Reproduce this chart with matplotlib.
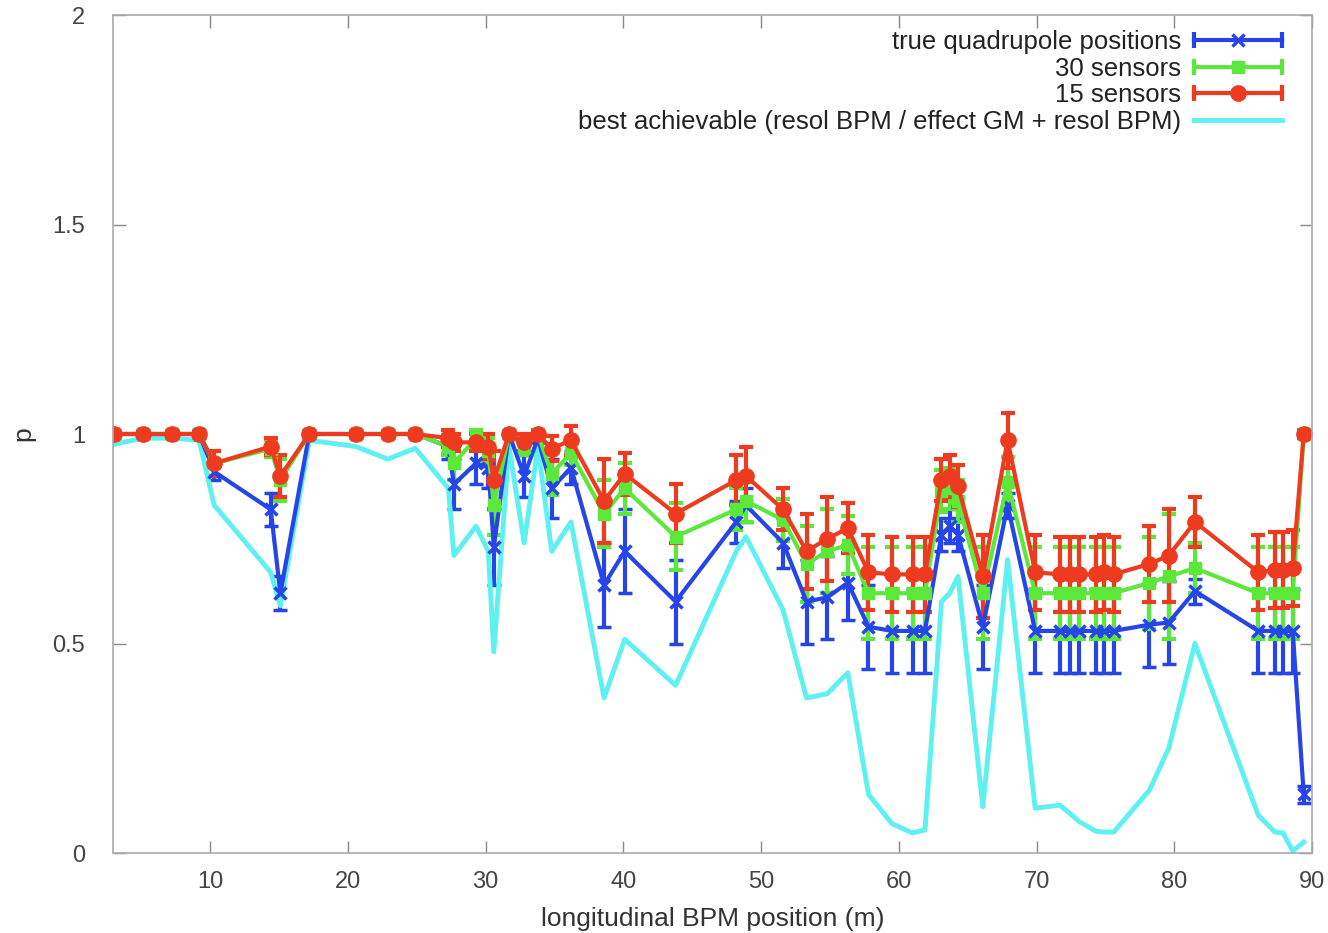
import matplotlib
matplotlib.use("Agg")
import matplotlib.pyplot as plt
from matplotlib.lines import Line2D
from matplotlib.legend_handler import HandlerBase

plt.rcParams['font.family'] = ['Liberation Sans', 'DejaVu Sans']

# BPM longitudinal positions (m)
bpm_pos = [3.0, 5.1, 7.2, 9.2, 10.3, 14.4, 15.1, 17.2, 20.6, 22.9, 24.9, 27.3, 27.7,
           29.3, 30.2, 30.6, 31.7, 32.8, 33.8, 34.8, 36.2, 38.6, 40.1, 43.8, 48.2,
           48.9, 51.6, 53.3, 54.8, 56.3, 57.8, 59.5, 61.0, 61.9, 63.1, 63.7, 64.3,
           66.1, 67.9, 69.9, 71.7, 72.4, 73.1, 74.3, 74.9, 75.6, 78.2, 79.6, 81.5,
           86.1, 87.3, 87.9, 88.6, 89.4]

true_quad = [1.0, 1.0, 1.0, 1.0, 0.91, 0.82, 0.62, 1.0, 1.0, 1.0, 1.0, 0.97, 0.88,
             0.93, 0.92, 0.73, 1.0, 0.90, 0.99, 0.87, 0.92, 0.64, 0.72, 0.60, 0.79,
             0.83, 0.74, 0.60, 0.61, 0.645, 0.54, 0.53, 0.53, 0.53, 0.76, 0.78, 0.76,
             0.54, 0.83, 0.53, 0.53, 0.53, 0.53, 0.53, 0.53, 0.53, 0.545, 0.55, 0.625,
             0.53, 0.53, 0.53, 0.53, 0.14]
true_quad_err = [0.005, 0.005, 0.005, 0.005, 0.02, 0.04, 0.04, 0.005, 0.005, 0.005, 0.005, 0.03, 0.06,
                 0.05, 0.05, 0.09, 0.005, 0.05, 0.01, 0.07, 0.04, 0.10, 0.10, 0.10, 0.05,
                 0.04, 0.06, 0.10, 0.10, 0.09, 0.10, 0.10, 0.10, 0.10, 0.04, 0.04, 0.04,
                 0.10, 0.03, 0.10, 0.10, 0.10, 0.10, 0.10, 0.10, 0.10, 0.10, 0.10, 0.03,
                 0.10, 0.10, 0.10, 0.10, 0.02]

sensors30 = [1.0, 1.0, 1.0, 1.0, 0.93, 0.965, 0.89, 1.0, 1.0, 1.0, 1.0, 0.97, 0.93,
             0.99, 0.96, 0.83, 1.0, 0.97, 1.0, 0.905, 0.955, 0.81, 0.87, 0.755, 0.82,
             0.84, 0.795, 0.69, 0.72, 0.735, 0.62, 0.62, 0.62, 0.62, 0.865, 0.87, 0.84,
             0.62, 0.885, 0.62, 0.62, 0.62, 0.62, 0.62, 0.62, 0.62, 0.645, 0.66, 0.68,
             0.62, 0.62, 0.62, 0.62, 1.0]
sensors30_err = [0.005, 0.005, 0.005, 0.005, 0.03, 0.02, 0.05, 0.005, 0.005, 0.005, 0.005, 0.02, 0.04,
                 0.02, 0.03, 0.07, 0.005, 0.02, 0.01, 0.05, 0.03, 0.08, 0.06, 0.08, 0.05,
                 0.05, 0.05, 0.09, 0.10, 0.07, 0.11, 0.11, 0.11, 0.11, 0.05, 0.05, 0.05,
                 0.11, 0.06, 0.11, 0.11, 0.11, 0.11, 0.11, 0.11, 0.11, 0.11, 0.15, 0.06,
                 0.11, 0.11, 0.11, 0.11, 0.01]

sensors15 = [1.0, 1.0, 1.0, 1.0, 0.93, 0.97, 0.90, 1.0, 1.0, 1.0, 1.0, 0.99, 0.98,
             0.98, 0.97, 0.89, 1.0, 0.98, 1.0, 0.965, 0.985, 0.84, 0.905, 0.81, 0.89,
             0.90, 0.82, 0.72, 0.75, 0.775, 0.67, 0.665, 0.665, 0.665, 0.89, 0.90, 0.875,
             0.66, 0.985, 0.67, 0.665, 0.665, 0.665, 0.665, 0.67, 0.665, 0.69, 0.71, 0.79,
             0.67, 0.675, 0.675, 0.68, 1.0]
sensors15_err = [0.005, 0.005, 0.005, 0.005, 0.03, 0.02, 0.05, 0.005, 0.005, 0.005, 0.005, 0.02, 0.02,
                 0.02, 0.03, 0.07, 0.005, 0.02, 0.01, 0.03, 0.035, 0.10, 0.05, 0.07, 0.06,
                 0.07, 0.05, 0.09, 0.10, 0.06, 0.09, 0.09, 0.09, 0.09, 0.05, 0.05, 0.05,
                 0.10, 0.065, 0.09, 0.09, 0.09, 0.09, 0.09, 0.09, 0.09, 0.09, 0.11, 0.06,
                 0.09, 0.09, 0.09, 0.09, 0.01]

best_achievable = [0.975, 0.99, 0.99, 0.985, 0.83, 0.67, 0.59, 0.985, 0.97, 0.94, 0.966, 0.87, 0.71,
                   0.78, 0.72, 0.48, 0.97, 0.74, 0.97, 0.72, 0.79, 0.37, 0.51, 0.40, 0.72,
                   0.755, 0.58, 0.37, 0.38, 0.43, 0.14, 0.07, 0.048, 0.055, 0.60, 0.62, 0.66,
                   0.11, 0.70, 0.107, 0.114, 0.095, 0.075, 0.052, 0.05, 0.05, 0.15, 0.25, 0.50,
                   0.09, 0.05, 0.048, 0.005, 0.026]

labels = ["true quadrupole positions", "30 sensors", "15 sensors",
          "best achievable (resol BPM / effect GM + resol BPM)"]

c_blue = "#2545e8"
c_green = "#5ce83a"
c_red = "#ee3a1e"
c_cyan = "#5ff0f2"

fig = plt.figure(figsize=(13.28, 9.33), dpi=100)
ax = fig.add_axes([113/1328, 80/933, (1312-113)/1328, (853-15)/933])

style = dict(linewidth=3, elinewidth=3, capsize=5, capthick=3)
ax.errorbar(bpm_pos, true_quad, yerr=true_quad_err, color=c_blue, marker='x',
            markersize=8, markeredgewidth=2.5, **style)
ax.errorbar(bpm_pos, sensors30, yerr=sensors30_err, color=c_green, marker='s',
            markersize=9, **style)
ax.errorbar(bpm_pos, sensors15, yerr=sensors15_err, color=c_red, marker='o',
            markersize=11, **style)
ax.plot(bpm_pos, best_achievable, color=c_cyan, linewidth=3.5)

ax.set_xlim(2.95, 90.0)
ax.set_ylim(0, 2)
ax.set_xticks([10, 20, 30, 40, 50, 60, 70, 80, 90])
ax.set_yticks([0, 0.5, 1, 1.5, 2])
ax.set_yticklabels(["0", "0.5", "1", "1.5", "2"])
ax.tick_params(direction='in', length=9, width=1, colors='#888888',
               labelcolor='#444444', labelsize=17, top=True, right=True)
ax.tick_params(axis='y', pad=20)
ax.tick_params(axis='x', pad=13)
for s in ax.spines.values():
    s.set_color('#aaaaaa')
    s.set_linewidth(1.2)

ax.set_xlabel("longitudinal BPM position (m)", fontsize=19, color='#333333', labelpad=10)
ax.set_ylabel("p", fontsize=19, color='#333333', labelpad=12)


class CapHandler(HandlerBase):
    def __init__(self, color, marker=None, ms=0, mew=1.0, caps=True, lw=3):
        super().__init__()
        self.color = color
        self.marker = marker
        self.ms = ms
        self.mew = mew
        self.caps = caps
        self.lw = lw

    def create_artists(self, legend, orig_handle, xdescent, ydescent, width,
                       height, fontsize, trans):
        y = height / 2 - ydescent
        x0, x1 = -xdescent, width - xdescent
        arts = [Line2D([x0, x1], [y, y], color=self.color, lw=self.lw)]
        if self.caps:
            arts.append(Line2D([x0, x1], [y, y], linestyle='', marker='|',
                               markersize=12, markeredgewidth=3, color=self.color))
        if self.marker:
            arts.append(Line2D([(x0 + x1) / 2], [y],
                               linestyle='', marker=self.marker, markersize=self.ms,
                               markeredgewidth=self.mew, color=self.color))
        for a in arts:
            a.set_transform(trans)
        return arts


proxies = [Line2D([], []) for _ in range(4)]
handler_map = {
    proxies[0]: CapHandler(c_blue, 'x', 8, 2.5),
    proxies[1]: CapHandler(c_green, 's', 9),
    proxies[2]: CapHandler(c_red, 'o', 11),
    proxies[3]: CapHandler(c_cyan, None, 0, caps=False, lw=3.5),
}
leg = ax.legend(proxies, labels, handler_map=handler_map, loc='upper right',
                bbox_to_anchor=(0.9875, 1.0005), frameon=False, markerfirst=False,
                fontsize=18.5, handlelength=3.4, handletextpad=0.5,
                labelspacing=0.1, borderaxespad=0.2)
for t in leg.get_texts():
    t.set_color('#222222')

fig.savefig("out.png", dpi=100)
